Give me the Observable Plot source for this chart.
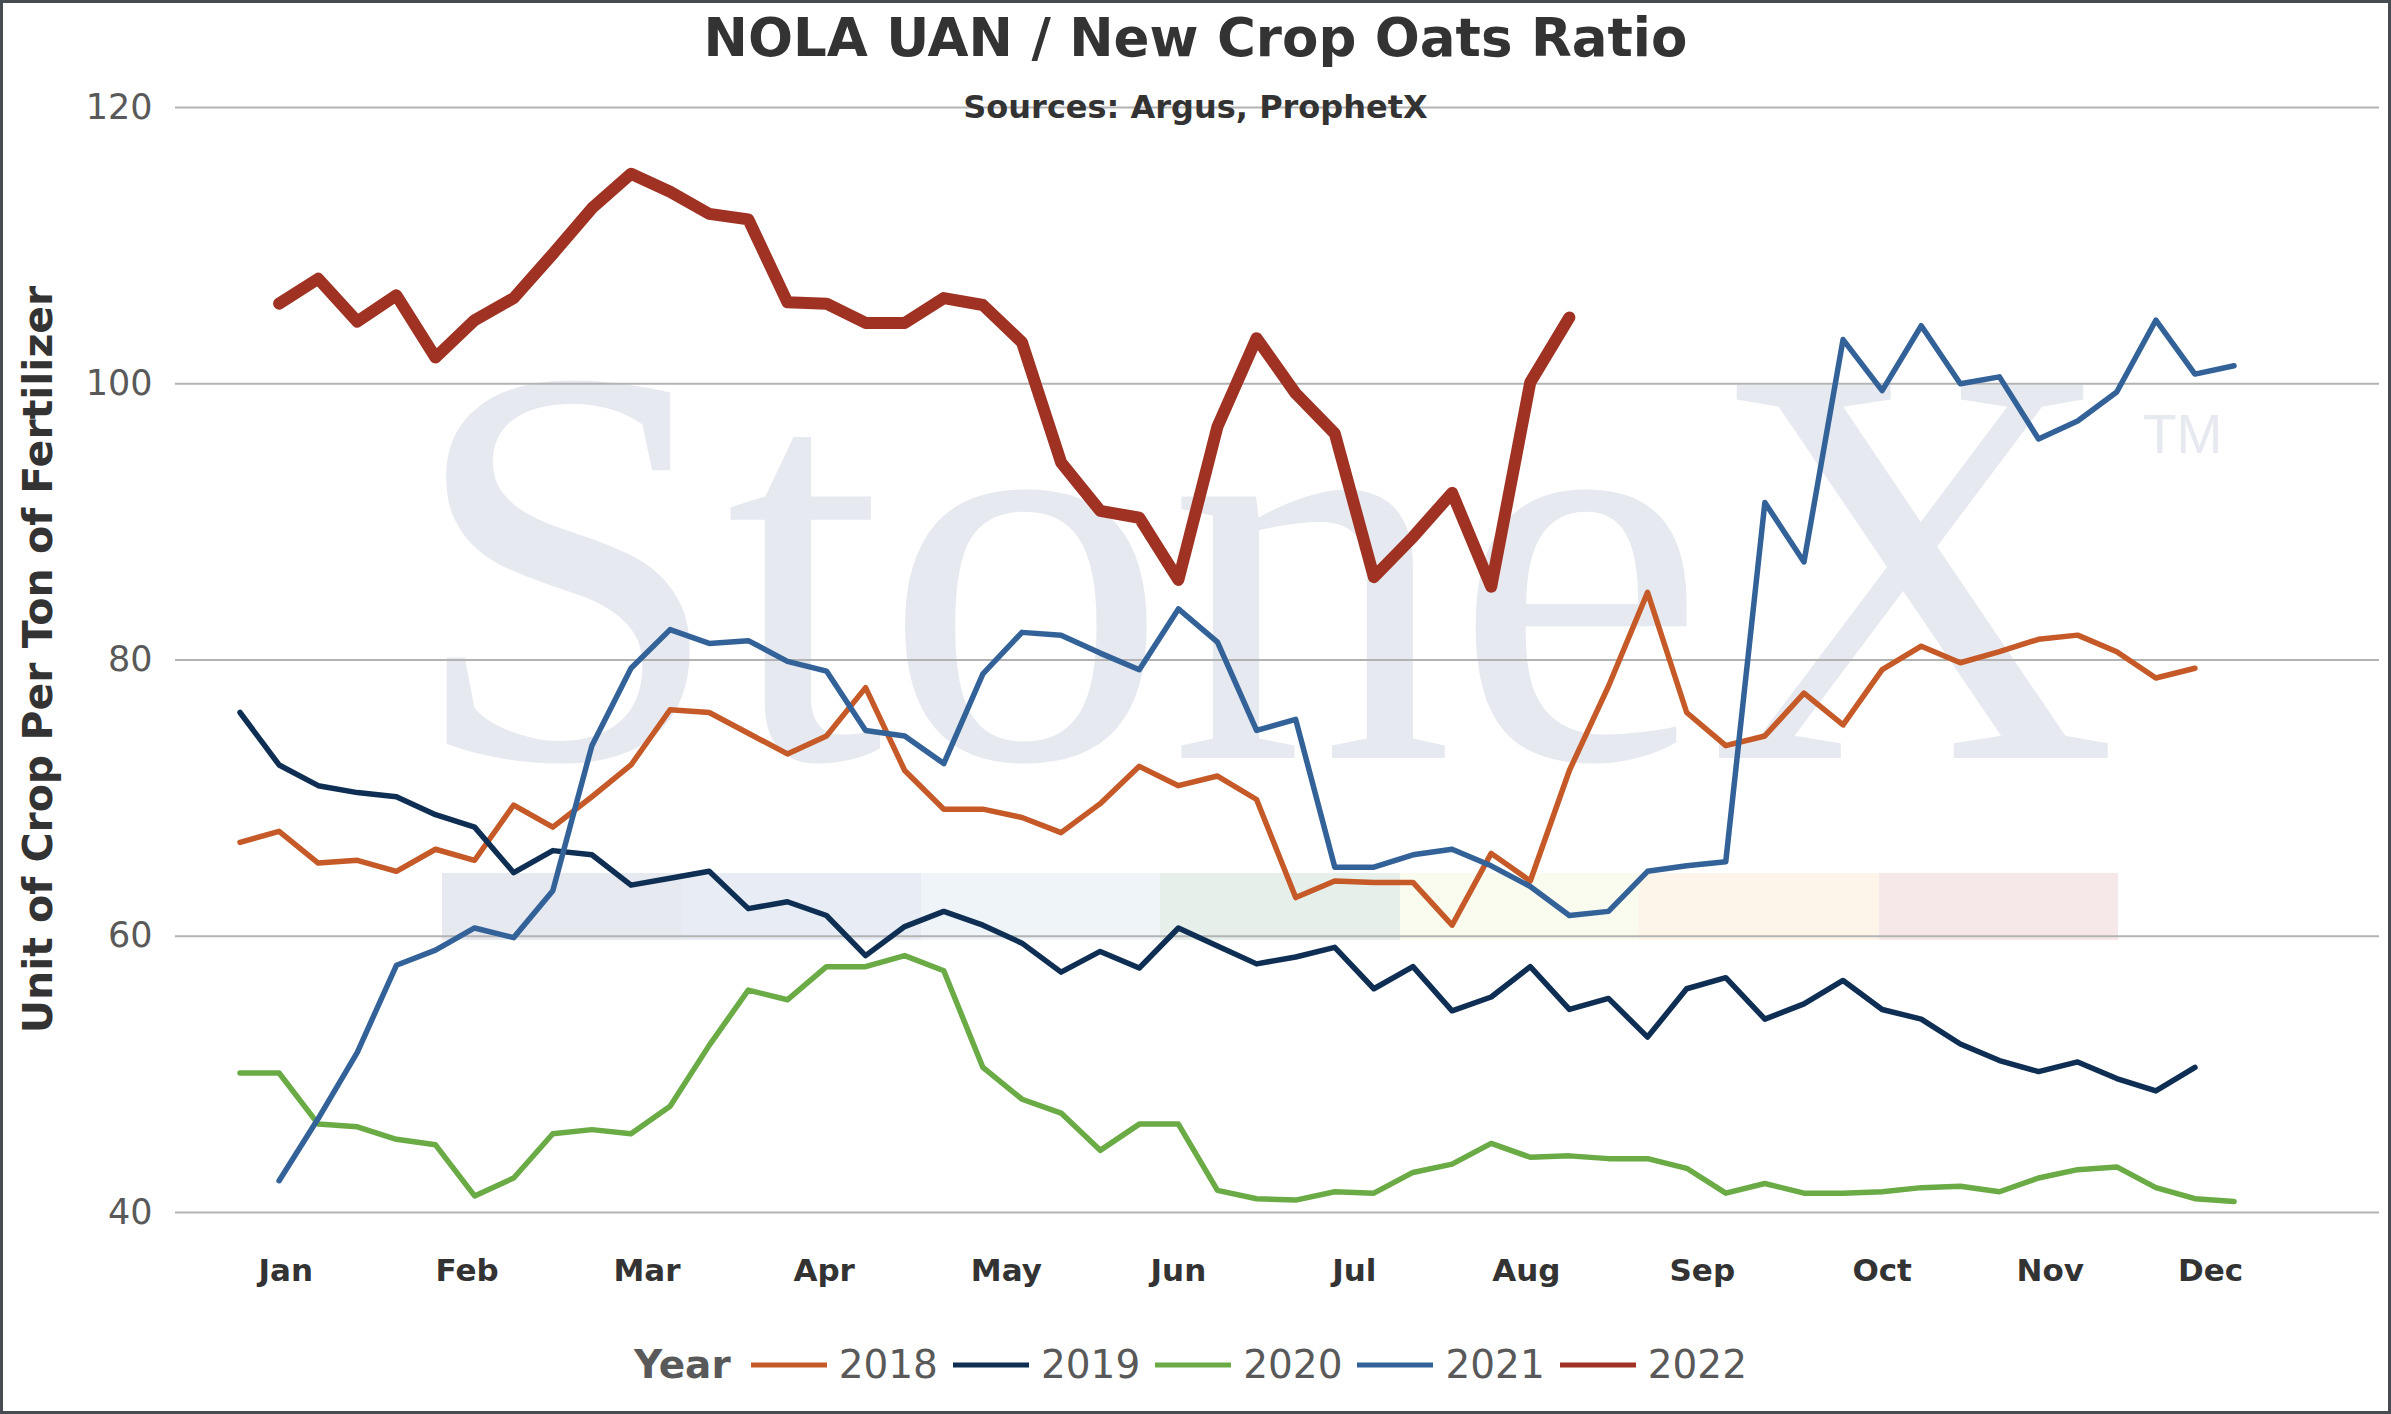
<!DOCTYPE html>
<html>
<head>
<meta charset="utf-8">
<script src="https://cdn.jsdelivr.net/npm/d3@7"></script>
<script src="https://cdn.jsdelivr.net/npm/@observablehq/plot@0.6"></script>
<style>
  body { margin: 0; background: #fff; }
  #wrap { position: relative; width: 2391px; height: 1414px; overflow: hidden; background: #fff; font-family: "DejaVu Sans", Verdana, sans-serif; }
  #plot { position: absolute; left: 0; top: 0; }
  #title { position: absolute; left: 0; width: 2391px; top: 11px; text-align: center; font-size: 53px; line-height: 53px; font-weight: bold; color: #333; }
  #subtitle { position: absolute; left: 0; width: 2391px; top: 91px; text-align: center; font-size: 32px; line-height: 32px; font-weight: bold; color: #333; }
  #ylabel { position: absolute; width: 1000px; height: 41px; line-height: 41px; left: -462px; top: 639px; text-align: center; font-size: 41px; font-weight: bold; color: #333; transform: rotate(-90deg); white-space: nowrap; }
  #legend { position: absolute; left: 0; width: 2391px; top: 1342px; height: 46px; display: flex; justify-content: center; align-items: center; font-size: 39px; line-height: 46px; color: #595959; padding-right: 10px; box-sizing: border-box; }
  #legend .head { font-weight: bold; margin-right: 20px; }
  #legend .item { display: flex; align-items: center; }
  #legend .item + .item { margin-left: 15px; }
  #legend svg { margin-right: 12px; }
  #border { position: absolute; inset: 0; border: 3px solid #474c52; box-sizing: border-box; pointer-events: none; }
</style>
</head>
<body>
<div id="wrap">
  <div id="plot"></div>
  <div id="title">NOLA UAN / New Crop Oats Ratio</div>
  <div id="subtitle">Sources: Argus, ProphetX</div>
  <div id="ylabel">Unit of Crop Per Ton of Fertilizer</div>
  <div id="legend"></div>
  <div id="border"></div>
</div>
<script>
// ---- data ----
const weeks = [1,2,3,4,5,6,7,8,9,10,11,12,13,14,15,16,17,18,19,20,21,22,23,24,25,26,
               27,28,29,30,31,32,33,34,35,36,37,38,39,40,41,42,43,44,45,46,47,48,49,50,51,52];

const years = ["2018", "2019", "2020", "2021", "2022"];
const colors = ["#c55a28", "#0e2f53", "#6aab46", "#336299", "#9f3222"];

const y2018 = [66.8,67.6,65.3,65.5,64.7,66.3,65.5,69.5,67.9,70.1,72.4,76.4,76.2,74.7,73.2,74.5,78.0,72.0,69.2,69.2,
               68.6,67.5,69.6,72.3,70.9,71.6,69.9,62.8,64.0,63.9,63.9,60.8,66.0,64.0,72.0,78.1,84.9,76.2,73.8,74.5,
               77.6,75.3,79.3,81.0,79.8,80.6,81.5,81.8,80.6,78.7,79.4];
const y2019 = [76.2,72.4,70.9,70.4,70.1,68.8,67.9,64.6,66.2,65.9,63.7,64.2,64.7,62.0,62.5,61.5,58.6,60.7,61.8,60.8,
               59.5,57.4,58.9,57.7,60.6,59.3,58.0,58.5,59.2,56.2,57.8,54.6,55.6,57.8,54.7,55.5,52.7,56.2,57.0,54.0,
               55.1,56.8,54.7,54.0,52.2,51.0,50.2,50.9,49.7,48.8,50.5];
const y2020 = [50.1,50.1,46.4,46.2,45.3,44.9,41.2,42.5,45.7,46.0,45.7,47.7,52.1,56.1,55.4,57.8,57.8,58.6,57.5,50.5,
               48.2,47.2,44.5,46.4,46.4,41.6,41.0,40.9,41.5,41.4,42.9,43.5,45.0,44.0,44.1,43.9,43.9,43.2,41.4,42.1,
               41.4,41.4,41.5,41.8,41.9,41.5,42.5,43.1,43.3,41.8,41.0,40.8];
const y2021 = [null,42.3,46.8,51.6,57.9,59.0,60.6,59.9,63.3,73.8,79.4,82.2,81.2,81.4,79.9,79.2,74.9,74.5,72.5,79.0,
               82.0,81.8,80.5,79.3,83.7,81.3,74.9,75.7,65.0,65.0,65.9,66.3,65.1,63.6,61.5,61.8,64.7,65.1,65.4,91.4,
               87.1,103.2,99.5,104.2,100.0,100.5,96.0,97.3,99.4,104.6,100.7,101.3];
const y2022 = [null,105.8,107.6,104.5,106.4,101.9,104.6,106.2,109.4,112.7,115.2,113.9,112.3,111.9,105.9,105.8,104.4,104.4,106.2,105.7,
               103.0,94.3,90.8,90.3,85.8,96.9,103.3,99.3,96.4,86.0,88.9,92.1,85.3,100.1,104.8];

const yTicks = [40, 60, 80, 100, 120];
const monthNames = ["Jan","Feb","Mar","Apr","May","Jun","Jul","Aug","Sep","Oct","Nov","Dec"];
const monthPos = [2.17, 6.81, 11.41, 15.94, 20.6, 25.0, 29.5, 33.9, 38.4, 43.0, 47.3, 51.4];

// ---- build table ----
const seriesVals = [y2018, y2019, y2020, y2021, y2022];
const rows = [];
seriesVals.forEach((vals, k) => {
  vals.forEach((v, i) => { if (v != null) rows.push({ week: weeks[i], value: v, year: years[k] }); });
});
const monthMap = new Map(monthPos.map((p, i) => [p, monthNames[i]]));

const lineMarks = years.map((yr, k) =>
  Plot.line(rows.filter(d => d.year === yr), {
    x: "week", y: "value",
    stroke: colors[k],
    strokeWidth: yr === "2022" ? 12 : 5.5,
    strokeLinejoin: "round", strokeLinecap: "round"
  })
);

const chart = Plot.plot({
  width: 2391,
  height: 1300,
  marginTop: 107,
  marginBottom: 88,
  marginLeft: 175,
  marginRight: 12,
  x: { domain: [-0.65, 55.72], axis: null },
  y: { domain: [40, 120], axis: null },
  style: { background: "transparent", fontFamily: "DejaVu Sans, Verdana, sans-serif", overflow: "visible" },
  marks: [
    Plot.gridY(yTicks, { stroke: "#b3b3b3", strokeOpacity: 1, strokeWidth: 2 }),
    Plot.axisY(yTicks, { tickSize: 0, tickPadding: 23, fontSize: 35, fill: "#595959", label: null }),
    Plot.axisX(monthPos, { tickSize: 0, tickPadding: 46, fontSize: 31, fontWeight: "bold", fill: "#333", label: null,
                           tickFormat: d => monthMap.get(d) }),
    ...lineMarks
  ]
});
document.getElementById("plot").appendChild(chart);

// ---- watermark (decoration behind the data) ----
const svg = d3.select(chart);
const wm = svg.insert("g", ":first-child").attr("aria-hidden", "true").attr("text-anchor", "start");
const bandColors = ["#e6e9ef", "#e8edf5", "#eef4f8", "#e6efe9", "#fafbef", "#fdf5e9", "#f6e8e9"];
const bandEdges = [442, 682, 921, 1160, 1400, 1639, 1879, 2118];
bandColors.forEach((c, i) => {
  wm.append("rect").attr("x", bandEdges[i]).attr("y", 873)
    .attr("width", bandEdges[i + 1] - bandEdges[i]).attr("height", 67).attr("fill", c);
});
wm.append("text").attr("x", 408).attr("y", 758).attr("text-anchor", "start")
  .attr("font-family", "Liberation Serif, Times New Roman, serif").attr("font-size", 570)
  .attr("textLength", 1710).attr("lengthAdjust", "spacing")
  .attr("fill", "#e6e9ef").text("StoneX");
wm.append("text").attr("x", 2143).attr("y", 453).attr("text-anchor", "start")
  .attr("font-family", "Liberation Sans, Arial, sans-serif").attr("font-size", 55)
  .attr("fill", "#e6e9ef").text("TM");

// ---- legend ----
const legend = d3.select("#legend");
legend.append("span").attr("class", "head").text("Year");
years.forEach((yr, k) => {
  const it = legend.append("span").attr("class", "item");
  const s = it.append("svg").attr("width", 76).attr("height", 10);
  s.append("line").attr("x1", 0).attr("x2", 76).attr("y1", 5).attr("y2", 5)
    .attr("stroke", colors[k]).attr("stroke-width", 5);
  it.append("span").text(yr);
});
</script>
</body>
</html>
